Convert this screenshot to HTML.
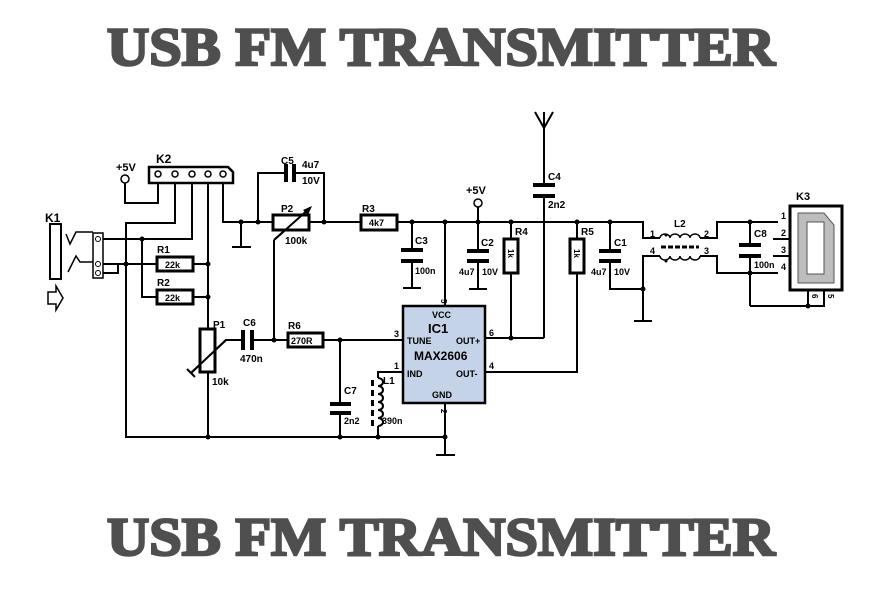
<!DOCTYPE html>
<html><head><meta charset="utf-8"><style>
html,body{margin:0;padding:0;background:#fff}
svg{display:block}
.t{font-family:"Liberation Serif",serif;font-weight:bold;font-size:54px;fill:#4f4f4f;stroke:#4f4f4f;stroke-width:2.5}
.l{font-family:"Liberation Sans",sans-serif;font-weight:bold;font-size:10px;fill:#000}
.w{stroke:#000;stroke-width:2;fill:none}
.r{stroke:#000;stroke-width:3;fill:#fff}
.p{fill:#000}
</style></head><body>
<svg width="886" height="600" viewBox="0 0 886 600" xmlns="http://www.w3.org/2000/svg">
<text class="t" x="107" y="65" textLength="668" lengthAdjust="spacingAndGlyphs">USB FM TRANSMITTER</text>
<text class="t" x="107" y="555" textLength="668" lengthAdjust="spacingAndGlyphs">USB FM TRANSMITTER</text>

<g class="w">
<polyline points="223,183 223,222 272,222"/>
<line x1="309" y1="222" x2="360" y2="222"/>
<polyline points="397,222 643,222 643,238 660,238"/>
<line x1="241" y1="222" x2="241" y2="247"/><line x1="232" y1="247" x2="251" y2="247"/>
<polyline points="258,222 258,173 287,173"/><polyline points="294,173 324,173 324,222"/>
<line x1="412" y1="222" x2="412" y2="250"/><line x1="412" y1="262" x2="412" y2="288"/><line x1="403" y1="288" x2="421" y2="288"/>
<line x1="445" y1="222" x2="445" y2="305"/>
<line x1="478" y1="207" x2="478" y2="251"/><line x1="478" y1="262" x2="478" y2="289"/><line x1="469" y1="289" x2="487" y2="289"/>
<polyline points="511,222 511,338"/>
<line x1="485" y1="338" x2="544" y2="338"/>
<line x1="544" y1="112" x2="544" y2="185"/><line x1="544" y1="196" x2="544" y2="338"/>
<polyline points="535,112 544,128 553,112"/>
<polyline points="577,222 577,372 485,372"/>
<polyline points="610,222 610,251"/><polyline points="610,262 610,289 643,289"/>
<polyline points="660,256 643,256 643,321"/><line x1="634" y1="321" x2="652" y2="321"/>
<polyline points="700,238 717,238 717,222 778,222"/>
<polyline points="700,256 717,256 717,273 778,273"/>
<line x1="750" y1="222" x2="750" y2="245"/><line x1="750" y1="256" x2="750" y2="306"/>
<polyline points="750,306 824,306 824,291"/><line x1="808" y1="291" x2="808" y2="306"/>
<line x1="773" y1="239" x2="790" y2="239"/><line x1="773" y1="256" x2="790" y2="256"/>
<polyline points="158,176 158,203 125,203 125,182"/>
<polyline points="175,176 175,223 126,223 126,437 445,437"/>
<polyline points="192,176 192,239 103,239"/>
<line x1="208" y1="176" x2="208" y2="437"/>
<line x1="103" y1="264" x2="157" y2="264"/><line x1="193" y1="264" x2="208" y2="264"/>
<polyline points="142,239 142,297 157,297"/><line x1="193" y1="297" x2="208" y2="297"/>
<polyline points="103,273 118,273 118,264"/>
<polyline points="232,340 243,340"/><line x1="251" y1="340" x2="287" y2="340"/>
<line x1="323" y1="340" x2="403" y2="340"/>
<line x1="274" y1="340" x2="274" y2="240"/>
<line x1="340" y1="340" x2="340" y2="404"/><line x1="340" y1="413" x2="340" y2="437"/>
<polyline points="403,372 378,372 378,378"/>
<path d="M378,378 a5,4 0 1 1 0,8 a5,4 0 1 1 0,8 a5,4 0 1 1 0,8 a5,4 0 1 1 0,8 a5,4 0 1 1 0,8 a5,4 0 1 1 0,8"/>
<line x1="378" y1="426" x2="378" y2="437"/>
<line x1="445" y1="403" x2="445" y2="455"/><line x1="436" y1="455" x2="455" y2="455"/>
<polyline points="191,373 226,340 232,340"/>
<polyline points="274,240 310,208"/>
</g>
<rect x="50" y="224" width="11" height="55" fill="#fff" stroke="#000" stroke-width="2"/>
<polyline points="66,234 70,244 76,232 93,232" fill="none" stroke="#000" stroke-width="1.5"/>
<polyline points="68,272 76,256 80,262 93,262" fill="none" stroke="#000" stroke-width="1.5"/>
<rect x="93" y="233" width="10" height="45" fill="#fff" stroke="#000" stroke-width="1.5"/>
<circle cx="98" cy="239" r="2.5" fill="#fff" stroke="#000"/><circle cx="98" cy="264" r="2.5" fill="#fff" stroke="#000"/><circle cx="98" cy="273" r="2.5" fill="#fff" stroke="#000"/>
<polygon points="48,292 56,292 56,286 63,298 56,310 56,304 48,304" fill="#fff" stroke="#000" stroke-width="1.5"/>
<polygon points="149,167 228,167 233,172 233,183 149,183" fill="#fff" stroke="#000" stroke-width="2.5"/>
<g fill="#fff" stroke="#000" stroke-width="1.5"><circle cx="158" cy="174" r="3"/><circle cx="175" cy="174" r="3"/><circle cx="192" cy="174" r="3"/><circle cx="208" cy="174" r="3"/><circle cx="223" cy="174" r="3"/></g>
<circle cx="125" cy="179" r="4" fill="#fff" stroke="#000" stroke-width="1.5"/>
<circle cx="478" cy="203" r="4" fill="#fff" stroke="#000" stroke-width="1.5"/>
<rect class="r" x="273" y="215" width="36" height="15"/>
<rect class="r" x="361" y="215" width="36" height="15"/>
<rect class="r" x="157" y="257" width="36" height="14"/>
<rect class="r" x="157" y="290" width="36" height="14"/>
<rect class="r" x="200" y="329" width="15" height="43"/>
<rect class="r" x="288" y="333" width="35" height="14"/>
<rect class="r" x="504" y="239" width="14" height="34"/>
<rect class="r" x="570" y="239" width="14" height="34"/>
<line x1="274" y1="240" x2="310" y2="208" stroke="#000" stroke-width="2"/>
<polygon points="312,206 303,210 308,215" class="p"/>
<line x1="191" y1="373" x2="226" y2="340" stroke="#000" stroke-width="2"/>
<line x1="187" y1="369" x2="195" y2="377" stroke="#000" stroke-width="2"/>
<g class="p">
<rect x="284" y="164" width="4" height="18"/><rect x="292" y="164" width="4" height="18"/>
<rect x="401" y="248" width="22" height="4"/><rect x="401" y="259" width="22" height="4"/>
<rect x="467" y="249" width="22" height="4"/><rect x="467" y="259" width="22" height="4"/>
<rect x="533" y="183" width="22" height="4"/><rect x="533" y="194" width="22" height="4"/>
<rect x="599" y="249" width="22" height="4"/><rect x="599" y="259" width="22" height="4"/>
<rect x="739" y="243" width="22" height="4"/><rect x="739" y="254" width="22" height="4"/>
<rect x="241" y="330" width="4" height="20"/><rect x="250" y="330" width="4" height="20"/>
<rect x="330" y="402" width="21" height="4"/><rect x="330" y="411" width="21" height="4"/>
<rect x="371" y="380" width="3" height="6"/><rect x="371" y="390" width="3" height="6"/><rect x="371" y="400" width="3" height="6"/><rect x="371" y="410" width="3" height="6"/><rect x="371" y="420" width="3" height="6"/>
</g>
<path d="M660,238 a5,4 0 0 1 10,0 a5,4 0 0 1 10,0 a5,4 0 0 1 10,0 a5,4 0 0 1 10,0" fill="none" stroke="#000" stroke-width="1.5"/>
<path d="M660,256 a5,4 0 0 0 10,0 a5,4 0 0 0 10,0 a5,4 0 0 0 10,0 a5,4 0 0 0 10,0" fill="none" stroke="#000" stroke-width="1.5"/>
<line x1="661" y1="247" x2="699" y2="247" stroke="#000" stroke-width="3" stroke-dasharray="5,2"/>
<circle cx="666" cy="235" r="1.5" class="p"/><circle cx="666" cy="261" r="1.5" class="p"/>
<rect x="790" y="206" width="52" height="84" fill="#fff" stroke="#000" stroke-width="3"/>
<path d="M798,213 L824,213 L834,225 L834,283 L798,283 Z" fill="#bdbdbd" stroke="#555" stroke-width="1"/>
<rect x="807" y="222" width="17" height="52" fill="#fff" stroke="#555" stroke-width="1"/>
<rect x="403" y="306" width="82" height="97" fill="#c5d3e8" stroke="#000" stroke-width="2.5"/>
<g class="p">
<circle cx="241" cy="222" r="2.5"/><circle cx="258" cy="222" r="2.5"/><circle cx="324" cy="222" r="2.5"/><circle cx="412" cy="222" r="2.5"/><circle cx="445" cy="222" r="2.5"/><circle cx="478" cy="222" r="2.5"/><circle cx="511" cy="222" r="2.5"/><circle cx="577" cy="222" r="2.5"/><circle cx="610" cy="222" r="2.5"/><circle cx="643" cy="289" r="2.5"/><circle cx="750" cy="222" r="2.5"/><circle cx="750" cy="273" r="2.5"/><circle cx="808" cy="306" r="2.5"/><circle cx="511" cy="338" r="2.5"/>
<circle cx="142" cy="239" r="2.5"/><circle cx="126" cy="264" r="2.5"/><circle cx="208" cy="264" r="2.5"/><circle cx="208" cy="297" r="2.5"/><circle cx="274" cy="340" r="2.5"/><circle cx="340" cy="340" r="2.5"/><circle cx="208" cy="437" r="2.5"/><circle cx="340" cy="437" r="2.5"/><circle cx="378" cy="437" r="2.5"/><circle cx="445" cy="437" r="2.5"/>
</g>
<g class="l">
<text x="116" y="171" font-size="11">+5V</text>
<text x="156" y="163" font-size="12">K2</text>
<text x="45" y="222" font-size="12">K1</text>
<text x="281" y="164">C5</text><text x="302" y="168">4u7</text><text x="302" y="184">10V</text>
<text x="281" y="212">P2</text><text x="285" y="244">100k</text>
<text x="362" y="212">R3</text><text x="369" y="226" font-size="9">4k7</text>
<text x="415" y="244">C3</text><text x="415" y="274" font-size="9">100n</text>
<text x="157" y="253">R1</text><text x="165" y="268" font-size="9">22k</text>
<text x="157" y="286">R2</text><text x="165" y="301" font-size="9">22k</text>
<text x="213" y="328">P1</text><text x="212" y="385">10k</text>
<text x="243" y="326">C6</text><text x="240" y="362">470n</text>
<text x="288" y="329">R6</text><text x="291" y="344" font-size="9">270R</text>
<text x="344" y="394">C7</text><text x="344" y="424" font-size="9">2n2</text>
<text x="383" y="384">L1</text><text x="382" y="424" font-size="9">390n</text>
<text x="466" y="194" font-size="11">+5V</text>
<text x="481" y="246">C2</text><text x="459" y="275" font-size="9">4u7</text><text x="482" y="275" font-size="9">10V</text>
<text x="515" y="235">R4</text><text x="581" y="235">R5</text>
<text x="548" y="180">C4</text><text x="548" y="208">2n2</text>
<text x="614" y="246">C1</text><text x="591" y="275" font-size="9">4u7</text><text x="614" y="275" font-size="9">10V</text>
<text x="674" y="227">L2</text>
<text x="650" y="237" font-size="9">1</text><text x="650" y="254" font-size="9">4</text>
<text x="704" y="237" font-size="9">2</text><text x="704" y="254" font-size="9">3</text>
<text x="754" y="237">C8</text><text x="754" y="268" font-size="9">100n</text>
<text x="796" y="200" font-size="11">K3</text>
<text x="781" y="219" font-size="9">1</text><text x="781" y="236" font-size="9">2</text><text x="781" y="253" font-size="9">3</text><text x="781" y="270" font-size="9">4</text>
<text x="394" y="337" font-size="9">3</text><text x="394" y="369" font-size="9">1</text>
<text x="489" y="336" font-size="9">6</text><text x="489" y="369" font-size="9">4</text>
<text x="432" y="318" font-size="9">VCC</text>
<text x="428" y="333" font-size="13">IC1</text>
<text x="407" y="344" font-size="9">TUNE</text><text x="456" y="344" font-size="9">OUT+</text>
<text x="414" y="360" font-size="12">MAX2606</text>
<text x="407" y="377" font-size="9">IND</text><text x="456" y="377" font-size="9">OUT-</text>
<text x="432" y="398" font-size="9">GND</text>
<text x="0" y="0" font-size="8" transform="translate(441,299) rotate(90)">5</text>
<text x="0" y="0" font-size="8" transform="translate(441,409) rotate(90)">2</text>
<text x="0" y="0" font-size="8" transform="translate(812,294) rotate(90)">6</text>
<text x="0" y="0" font-size="8" transform="translate(828,294) rotate(90)">5</text>
<text x="0" y="0" font-size="8" transform="translate(508,249) rotate(90)">1k</text>
<text x="0" y="0" font-size="8" transform="translate(574,249) rotate(90)">1k</text>
</g>
</svg>
</body></html>
